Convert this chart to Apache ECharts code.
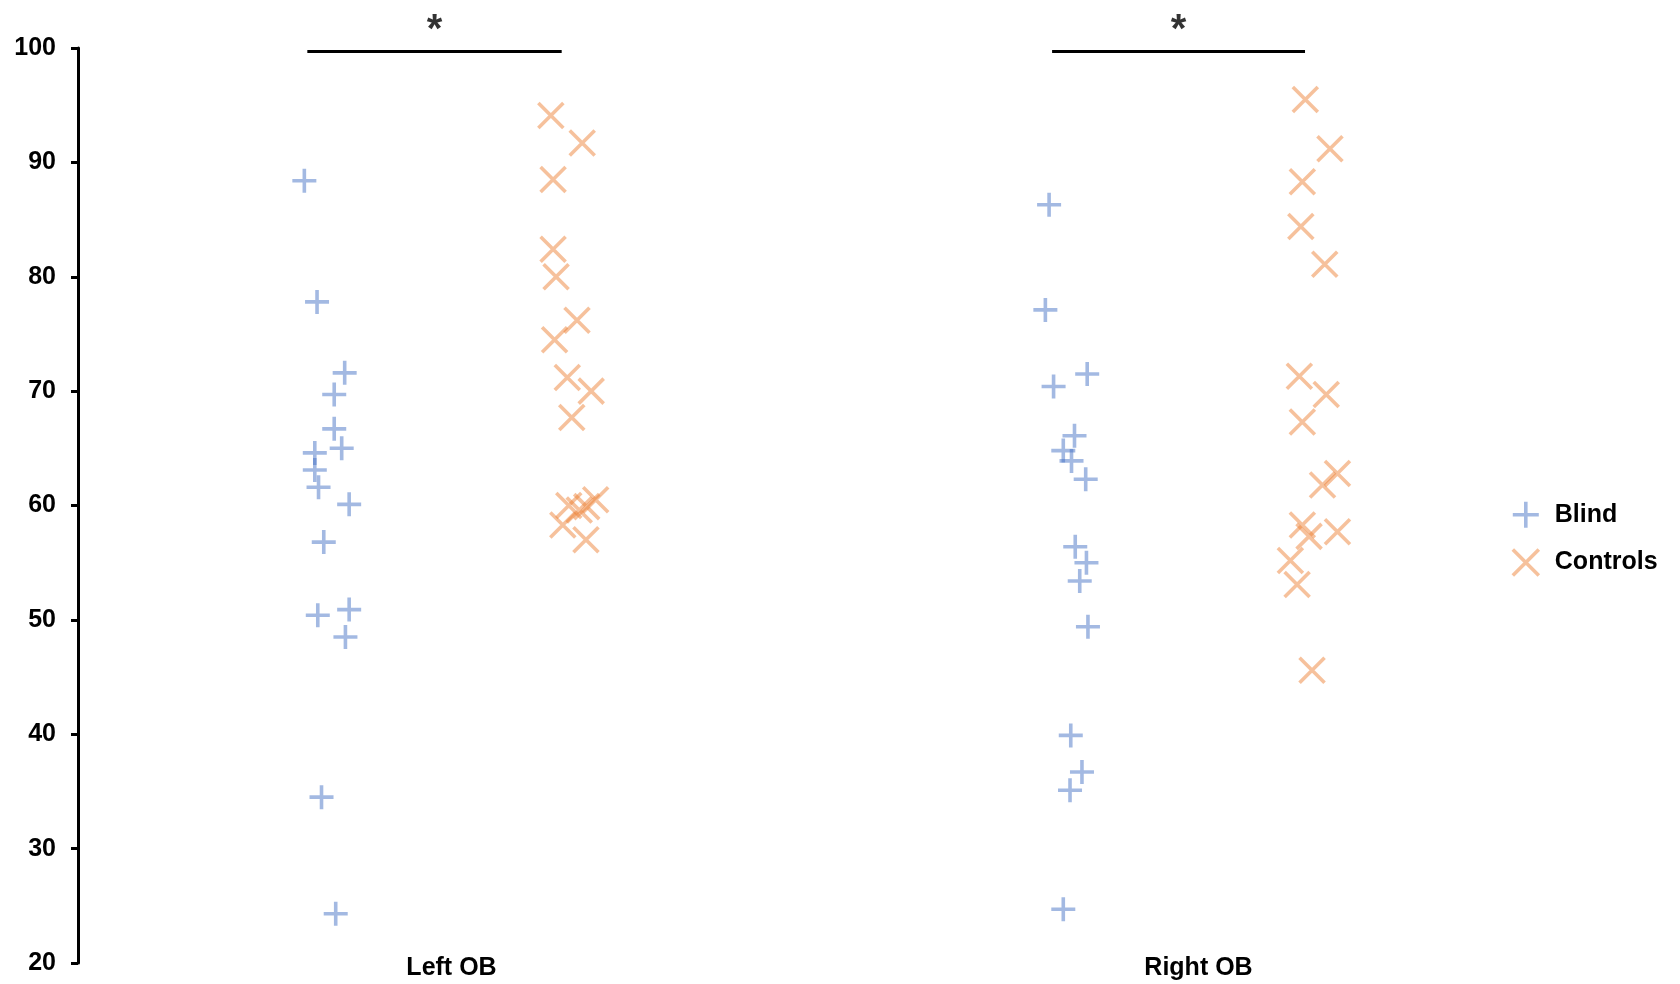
<!DOCTYPE html>
<html>
<head>
<meta charset="utf-8">
<title>OB volume – Blind vs Controls</title>
<script src="https://cdn.jsdelivr.net/npm/echarts@6/dist/echarts.min.js"></script>
<style>
  html, body { margin: 0; padding: 0; background: #ffffff; }
  #chart { width: 1680px; height: 984px; }
</style>
</head>
<body>
<div id="chart"></div>
<script>
// Group labels placed at the centre of each half of the x range
const categories = ['Left OB', 'Right OB'];
const categoryPos = [0.5, 1.5];
const seriesNames = ['Blind', 'Controls'];
const yTicks = [20, 30, 40, 50, 60, 70, 80, 90, 100];

// Left OB
const blindLeft = [88.4, 77.8, 71.6, 69.7, 66.7, 64.6, 65.0, 63.1, 61.6, 60.1, 56.8, 50.4, 50.9, 48.5, 34.5, 24.3];
const blindLeftPos = [0.303, 0.320, 0.357, 0.343, 0.343, 0.317, 0.353, 0.317, 0.322, 0.363, 0.329, 0.321, 0.363, 0.358, 0.326, 0.345];
const controlsLeft = [94.1, 91.7, 88.5, 82.4, 80.0, 76.2, 74.5, 71.2, 70.0, 67.7, 60.0, 59.6, 59.9, 60.5, 58.3, 57.0];
const controlsLeftPos = [0.633, 0.675, 0.636, 0.636, 0.640, 0.668, 0.638, 0.655, 0.687, 0.661, 0.657, 0.671, 0.681, 0.693, 0.649, 0.680];

// Right OB
const blindRight = [86.3, 77.1, 71.5, 70.4, 66.1, 64.8, 63.9, 62.3, 56.4, 55.0, 53.4, 49.4, 39.9, 36.7, 35.1, 24.7];
const blindRightPos = [1.300, 1.295, 1.351, 1.306, 1.334, 1.319, 1.330, 1.349, 1.335, 1.350, 1.341, 1.352, 1.329, 1.344, 1.328, 1.319];
const controlsRight = [95.5, 91.2, 88.3, 84.4, 81.1, 71.3, 69.7, 67.3, 62.8, 61.8, 58.3, 57.3, 57.7, 55.2, 53.1, 45.6];
const controlsRightPos = [1.643, 1.676, 1.639, 1.637, 1.669, 1.635, 1.671, 1.639, 1.686, 1.666, 1.639, 1.648, 1.686, 1.623, 1.632, 1.652];

// Significance brackets: [from, to] along x, bar level, star level, mark text
const sigSpans = [[0.307, 0.6475], [1.304, 1.6426]];
const sigLevel = 99.7;
const sigStarLevel = 101.5;
const sigMarks = ['*', '*'];

const FONT = '"Liberation Sans", Arial, sans-serif';
const BLUE = 'rgba(68,114,196,0.62)';
const ORANGE = 'rgba(237,125,49,0.6)';
const PLUS = 'path://M0,12L24,12M12,0L12,24';
const CROSS = 'path://M0,0L24,24M24,0L0,24';
const STROKE = 3.6;

function zip(xs, ys) { return ys.map((y, i) => [xs[i], y]); }

const blindData = zip(blindLeftPos, blindLeft).concat(zip(blindRightPos, blindRight));
const controlsData = zip(controlsLeftPos, controlsLeft).concat(zip(controlsRightPos, controlsRight));

const bracketSeries = sigSpans.map((span) => ({
  type: 'line',
  silent: true,
  symbol: 'none',
  clip: false,
  lineStyle: { color: '#000', width: 3 },
  data: [[span[0], sigLevel], [span[1], sigLevel]],
  z: 1
}));

const starSeries = {
  type: 'scatter',
  silent: true,
  clip: false,
  symbolSize: 0,
  label: {
    show: true,
    position: 'inside',
    formatter: (p) => sigMarks[p.dataIndex],
    color: '#000',
    fontFamily: FONT,
    fontWeight: 'bold',
    fontSize: 40
  },
  data: sigSpans.map((s) => [(s[0] + s[1]) / 2, sigStarLevel])
};

const chart = echarts.init(document.getElementById('chart'), null, { renderer: 'canvas' });

chart.setOption({
  backgroundColor: '#ffffff',
  animation: false,
  grid: { left: 78, top: 48, width: 1494, bottom: 21, containLabel: false },
  legend: {
    orient: 'vertical',
    left: 1506,
    top: 495,
    itemWidth: 26,
    itemHeight: 26,
    itemGap: 18,
    data: [
      { name: seriesNames[0], itemStyle: { borderColor: BLUE, borderWidth: STROKE } },
      { name: seriesNames[1], itemStyle: { borderColor: ORANGE, borderWidth: STROKE } }
    ],
    textStyle: {
      fontFamily: FONT,
      fontWeight: 'bold',
      fontSize: 25,
      color: '#000',
      padding: [0, 0, 0, 11]
    }
  },
  xAxis: {
    type: 'value',
    min: 0,
    max: 2,
    interval: 0.5,
    axisLine: { show: false },
    axisTick: { show: false },
    splitLine: { show: false },
    axisLabel: {
      margin: 5,
      verticalAlign: 'middle',
      fontFamily: FONT,
      fontWeight: 'bold',
      fontSize: 25,
      color: '#000',
      showMinLabel: false,
      showMaxLabel: false,
      formatter: (v) => {
        const i = categoryPos.indexOf(v);
        return i >= 0 ? categories[i] : '';
      }
    }
  },
  yAxis: {
    type: 'value',
    min: yTicks[0],
    max: yTicks[yTicks.length - 1],
    interval: 10,
    axisLine: { show: true, lineStyle: { color: '#000', width: 3 } },
    axisTick: { show: true, inside: false, length: 7, lineStyle: { color: '#000', width: 3 } },
    splitLine: { show: false },
    axisLabel: {
      margin: 22,
      fontFamily: FONT,
      fontWeight: 'bold',
      fontSize: 25,
      color: '#000'
    }
  },
  series: [
    {
      name: seriesNames[0],
      type: 'scatter',
      symbol: PLUS,
      symbolSize: 24,
      itemStyle: { color: BLUE, borderColor: BLUE, borderWidth: STROKE },
      data: blindData,
      z: 3
    },
    {
      name: seriesNames[1],
      type: 'scatter',
      symbol: CROSS,
      symbolSize: 25,
      itemStyle: { color: ORANGE, borderColor: ORANGE, borderWidth: STROKE },
      data: controlsData,
      z: 3
    }
  ].concat(bracketSeries, [starSeries])
});
</script>
</body>
</html>
